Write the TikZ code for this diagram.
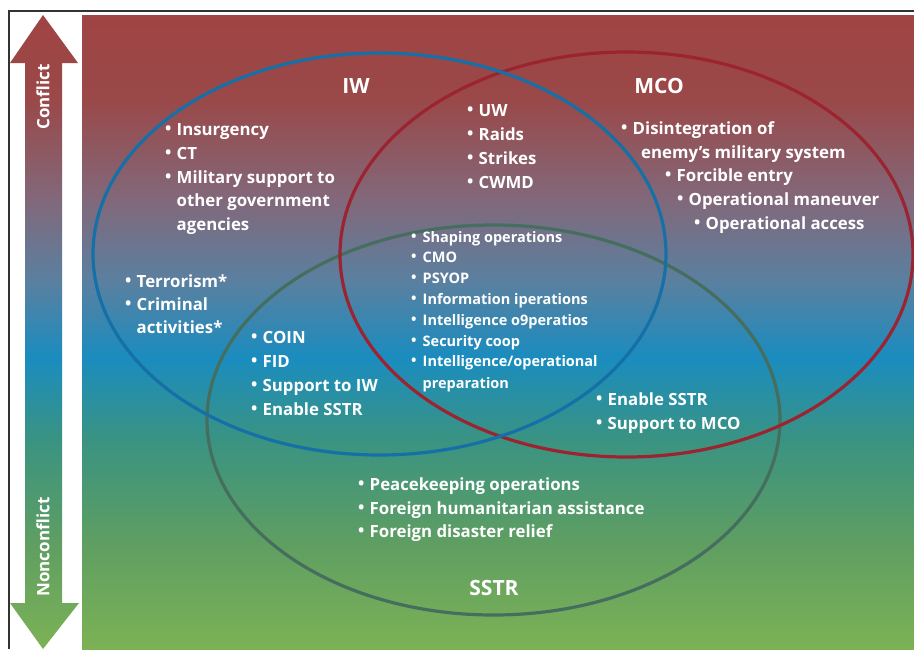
\documentclass[tikz,border=0pt]{standalone}
\usepackage{fontspec}
\setmainfont{Open Sans}
\definecolor{gBot}{HTML}{7CB255}
\definecolor{gS1}{HTML}{5E9E62}
\definecolor{gS2}{HTML}{3A9382}
\definecolor{gS3}{HTML}{1A8CBF}
\definecolor{gS4}{HTML}{5A80A0}
\definecolor{gS5}{HTML}{82687A}
\definecolor{gS6}{HTML}{9A4848}
\definecolor{gTop}{HTML}{A04444}
\definecolor{iwcol}{HTML}{1570A8}
\definecolor{mcocol}{HTML}{9B2430}
\definecolor{sstrcol}{HTML}{466E5E}
\definecolor{framecol}{HTML}{333333}
\pgfdeclareverticalshading{bandshade}{100bp}{%
  color(0bp)=(gBot); color(25bp)=(gBot); color(33.5bp)=(gS1);
  color(41.5bp)=(gS2); color(48bp)=(gS3); color(54bp)=(gS4);
  color(60.5bp)=(gS5); color(68.5bp)=(gS6); color(75bp)=(gTop);
  color(100bp)=(gTop)}
\newcommand{\bul}{\makebox[11.5pt][l]{\raisebox{0.1ex}{•}}}
\newcommand{\ind}{\hspace*{11.5pt}}
\begin{document}
\begin{tikzpicture}[x=1pt,y=-1pt,
  ring/.style={line width=3.2pt},
  itm/.style={anchor=base west, inner sep=0pt, text=white, font=\fontsize{16.8}{20}\selectfont\bfseries},
  smallitm/.style={itm, font=\fontsize{14.5}{17}\selectfont\bfseries},
  ttl/.style={anchor=base, inner sep=0pt, text=white, font=\fontsize{21}{26}\selectfont\bfseries},
  sidelbl/.style={inner sep=0pt, text=white, rotate=90, font=\fontsize{17}{20}\selectfont\bfseries}]
\useasboundingbox (0,0) rectangle (914,649);
\fill[white] (0,0) rectangle (914,649);
% background band and the two-headed scale arrow
\shade[shading=bandshade] (82,15) rectangle (914,649);
\shade[shading=bandshade] (43,15) -- (78,63) -- (62,63) -- (62,603) -- (79,603)
  -- (43,649) -- (10,603) -- (25,603) -- (25,63) -- (10,63) -- cycle;
\draw[framecol, line width=1.3pt] (9,649) -- (9,11) -- (914,11);
\node[sidelbl] (conf) at (43,97) {Conflict};
\node[sidelbl] (nonconf) at (43,547) {Nonconflict};
% the three mission sets
\draw[ring, sstrcol] (493.5,420) ellipse [x radius=286.5pt, y radius=195pt];
\draw[ring, mcocol] (626.5,254.5) ellipse [x radius=286.5pt, y radius=202.5pt];
\draw[ring, iwcol] (379.5,254) ellipse [x radius=286.5pt, y radius=201pt];
% titles
\node[ttl] (iw) at (356,93) {IW};
\node[ttl] (mco) at (659,93) {MCO};
\node[ttl] (sstr) at (494,595) {SSTR};
% IW only
\node[itm] (iw1) at (165,135) {\bul Insurgency};
\node[itm] (iw2) at (165,159) {\bul CT};
\node[itm] (iw3) at (165,183) {\bul Military support to};
\node[itm] (iw4) at (165,206) {\ind other government};
\node[itm] (iw5) at (165,230) {\ind agencies};
\node[itm] (iw6) at (125,287) {\bul Terrorism*};
\node[itm] (iw7) at (125,310) {\bul Criminal};
\node[itm] (iw8) at (125,333) {\ind activities*};
% IW and MCO
\node[itm] (im1) at (467,116) {\bul UW};
\node[itm] (im2) at (467,140) {\bul Raids};
\node[itm] (im3) at (467,164) {\bul Strikes};
\node[itm] (im4) at (467,188) {\bul CWMD};
% MCO only
\node[itm] (mc1) at (621,134) {\bul Disintegration of};
\node[itm] (mc2) at (641,158) {enemy’s military system};
\node[itm] (mc3) at (665,181) {\bul Forcible entry};
\node[itm] (mc4) at (677,205) {\bul Operational maneuver};
\node[itm] (mc5) at (694,229) {\bul Operational access};
% all three
\node[smallitm] (c1) at (411,242) {\bul Shaping operations};
\node[smallitm] (c2) at (411,262) {\bul CMO};
\node[smallitm] (c3) at (411,283) {\bul PSYOP};
\node[smallitm] (c4) at (411,304) {\bul Information iperations};
\node[smallitm] (c5) at (411,325) {\bul Intelligence o9peratios};
\node[smallitm] (c6) at (411,346) {\bul Security coop};
\node[smallitm] (c7) at (411,366) {\bul Intelligence/operational};
\node[smallitm] (c8) at (411,388) {\ind preparation};
% IW and SSTR
\node[itm] (is1) at (251,343) {\bul COIN};
\node[itm] (is2) at (251,367) {\bul FID};
\node[itm] (is3) at (251,391) {\bul Support to IW};
\node[itm] (is4) at (251,415) {\bul Enable SSTR};
% MCO and SSTR
\node[itm] (ms1) at (596,405) {\bul Enable SSTR};
\node[itm] (ms2) at (596,429) {\bul Support to MCO};
% SSTR only
\node[itm] (ss1) at (358,490) {\bul Peacekeeping operations};
\node[itm] (ss2) at (358,514) {\bul Foreign humanitarian assistance};
\node[itm] (ss3) at (358,537) {\bul Foreign disaster relief};
\end{tikzpicture}
\end{document}
